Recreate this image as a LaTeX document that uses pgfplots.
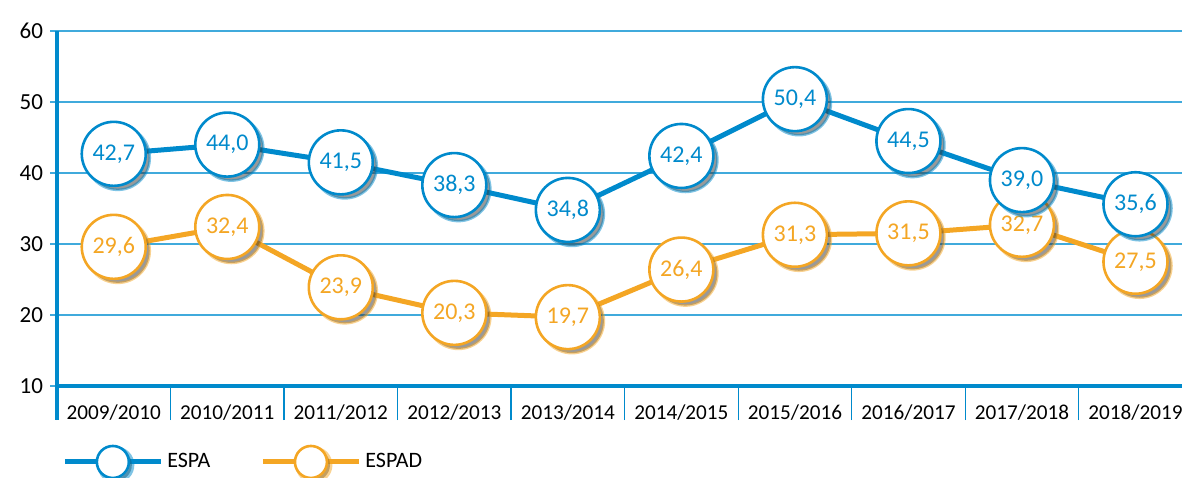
\documentclass[border=0pt]{standalone}
\usepackage{pgfplots}
\pgfplotsset{compat=1.18}
\usepackage{fontspec}
\setmainfont{Carlito}
\usetikzlibrary{shadows}
\definecolor{espa}{RGB}{0,138,204}
\definecolor{espad}{RGB}{244,166,36}
\definecolor{gridblue}{RGB}{64,170,220}

\begin{document}
\begin{tikzpicture}
\path[use as bounding box, clip] (-28.5pt,-45.5pt) rectangle (562.5pt,193pt);
\begin{axis}[
  scale only axis, width=562.5pt, height=177.5pt,
  xmin=-0.5, xmax=9.41, ymin=10, ymax=60,
  clip=false,
  axis lines=left,
  axis line style={-, draw=espa, line width=1.6pt},
  ytick={10,20,...,60},
  xtick={0,...,9},
  xticklabels={2009/2010,2010/2011,2011/2012,2012/2013,2013/2014,2014/2015,2015/2016,2016/2017,2017/2018,2018/2019},
  minor xtick={-0.5,0.5,...,9.5},
  ymajorgrids,
  grid style={gridblue, line width=0.6pt},
  tick align=outside,
  major tick length=3.5pt,
  minor tick length=17pt,
  major x tick style={draw=none},
  minor x tick style={draw=espa, line width=0.6pt},
  ytick style={draw=gridblue, line width=0.6pt},
  x tick label style={anchor=center, yshift=-10pt, font=\fontsize{10.6}{12}\selectfont},
  y tick label style={anchor=east, font=\fontsize{11.5}{13}\selectfont},
  /pgf/number format/assume math mode=true,
  nodes near coords={\pgfmathprintnumber[use comma, fixed, fixed zerofill, precision=1]{\pgfplotspointmeta}},
  nodes near coords align={center},
  legend image code/.code={
    \draw[#1] (0pt,0pt) -- (48pt,0pt);
    \draw[#1, fill=white, line width=1.3pt, drop shadow={shadow xshift=1.5pt, shadow yshift=-1.5pt, opacity=0.5, fill=black!80}] (24pt,0pt) circle (8pt);
  },
  legend style={at={(axis description cs:0.0044,-0.214)}, anchor=west, draw=none, fill=none, inner sep=0pt,
    font=\fontsize{11}{13}\selectfont, /tikz/every even column/.append style={column sep=23pt}},
  legend columns=2,
  reverse legend,
]
\addplot[espad, line width=2.5pt, mark=none,
  every node near coord/.append style={circle, draw=espad, fill=white, line width=1.3pt, minimum size=32pt, inner sep=0pt,
    text=espad, font=\fontsize{12}{14}\selectfont, drop shadow={shadow xshift=2pt, shadow yshift=-2pt, opacity=0.5, fill=black!80}}]
  coordinates {(0,29.6) (1,32.4) (2,23.9) (3,20.3) (4,19.7) (5,26.4) (6,31.3) (7,31.5) (8,32.7) (9,27.5)};
\addlegendentry{ESPAD}
\addplot[espa, line width=2.5pt, mark=none,
  every node near coord/.append style={circle, draw=espa, fill=white, line width=1.3pt, minimum size=32pt, inner sep=0pt,
    text=espa, font=\fontsize{12}{14}\selectfont, drop shadow={shadow xshift=2pt, shadow yshift=-2pt, opacity=0.5, fill=black!80}}]
  coordinates {(0,42.7) (1,44.0) (2,41.5) (3,38.3) (4,34.8) (5,42.4) (6,50.4) (7,44.5) (8,39.0) (9,35.6)};
\addlegendentry{ESPA}
\draw[espa, line width=1.6pt] (axis cs:-0.5,10) -- ([yshift=-17pt]axis cs:-0.5,10);
\end{axis}
\end{tikzpicture}
\end{document}
